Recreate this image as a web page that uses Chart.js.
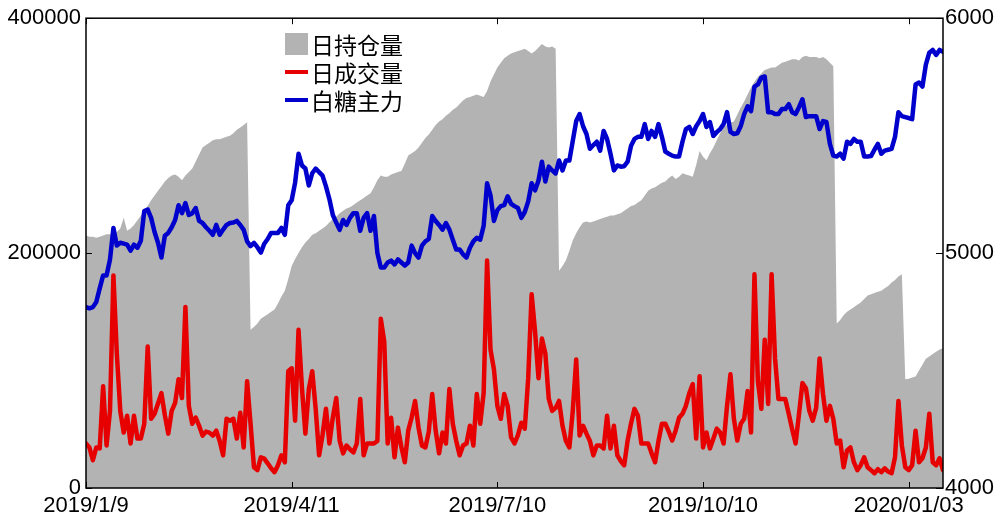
<!DOCTYPE html>
<html>
<head>
<meta charset="utf-8">
<script src="https://cdn.jsdelivr.net/npm/chart.js@4.4.1/dist/chart.umd.min.js"></script>
<style>
  body { margin: 0; background: #fff; }
  canvas { display: block; }
</style>
</head>
<body>
<canvas id="chart_sugar" width="999" height="517"></canvas>
<script>
/* 데이터 */
var tickIdx = [0, 60, 120, 180, 240];
var tickLabels = ['2019/1/9', '2019/4/11', '2019/7/10', '2019/10/10', '2020/01/03'];

// 日持仓量
var oi = [
  215000, 214000, 214000, 213000, 214000, 215000, 216000, 216000, 217000, 218000,
  221000, 230000, 219000, 221000, 224000, 228000, 232000, 236000, 240000, 245000,
  249000, 253000, 257000, 261000, 264000, 266000, 267000, 265000, 262000, 266000,
  269000, 272000, 278000, 284000, 290000, 292000, 294000, 296000, 297000, 297000,
  298000, 299000, 300000, 302000, 305000, 307000, 309000, 311500, 134700, 137000,
  140000, 144000, 146000, 148000, 150000, 152000, 157000, 163000, 168000, 178000,
  189000, 195000, 200000, 205000, 209000, 212000, 215600, 217000, 219000, 221000,
  223000, 226000, 229000, 231000, 234000, 236000, 238000, 239000, 241000, 243000,
  245000, 247000, 249000, 251000, 256000, 262000, 266000, 265000, 265000, 267000,
  268000, 269000, 270000, 276000, 283000, 285000, 287000, 290000, 294000, 298000,
  301000, 305000, 309000, 312000, 314000, 317000, 319000, 322000, 324000, 327000,
  330000, 332000, 333000, 334000, 335000, 334000, 333000, 338000, 346000, 352000,
  358000, 362000, 366000, 368000, 370000, 371000, 372000, 373000, 374000, 372000,
  370000, 372000, 375000, 378000, 376000, 375000, 376000, 374000, 185000, 189000,
  194000, 202000, 211000, 217000, 222000, 226000, 227000, 226000, 227000, 228000,
  229000, 230000, 231000, 232000, 232000, 233000, 234000, 236000, 238000, 240000,
  241000, 243000, 245000, 249000, 253000, 255000, 256000, 258000, 260000, 261000,
  264000, 266000, 263000, 265000, 268000, 267000, 266000, 265000, 275000, 287000,
  282000, 279000, 285000, 290000, 296000, 302000, 307000, 309000, 311000, 312000,
  318000, 324000, 329000, 335000, 341000, 346000, 350000, 353000, 356000, 357000,
  358000, 358000, 360000, 362000, 363000, 364000, 365000, 365000, 364000, 367000,
  368000, 367000, 367000, 367000, 366000, 367000, 365000, 362000, 359000, 140000,
  143000, 147000, 150000, 152000, 154000, 156000, 158000, 161000, 164000, 165000,
  166000, 167000, 168000, 170000, 172000, 175000, 177000, 180000, 182000, 92600,
  93000, 94000, 95000, 100000, 105000, 110000, 112000, 114000, 116000, 118000, 119000
];

// 日成交量
var vol = [
  37900, 34500, 23600, 34500, 33700, 86700, 36200, 65700, 181000, 113700,
  65700, 47200, 61500, 37900, 61500, 42100, 42100, 54700, 120400, 58900,
  63200, 72000, 80800, 62000, 46300, 65700, 72400, 92600, 76600, 154100,
  69900, 54700, 60000, 53000, 44600, 48000, 47200, 44600, 48800, 40000,
  27800, 58900, 57300, 58900, 42100, 64000, 34500, 90900, 54700, 17700,
  15200, 26100, 25000, 21000, 16800, 13500, 19400, 27800, 21900, 99400,
  101900, 57300, 134700, 85000, 46300, 84200, 99400, 67400, 27800, 45000,
  67400, 37900, 60000, 76600, 40400, 29500, 36200, 33000, 30300, 37900,
  75800, 27800, 37900, 37900, 37900, 40000, 144000, 124600, 37900, 59800,
  26100, 51400, 35000, 21900, 48800, 60000, 74100, 51400, 36200, 34500,
  48000, 80000, 48800, 29500, 47200, 37900, 84200, 54700, 40000, 27800,
  36200, 37900, 53000, 36200, 80000, 54700, 80800, 193700, 117900, 101000,
  69900, 58900, 80000, 70000, 43000, 37900, 45000, 55600, 50500, 93500,
  165000, 133000, 93500, 127200, 114500, 75800, 65700, 68200, 74100, 53000,
  40000, 34500, 65700, 109500, 44600, 53000, 46300, 40000, 27800, 36200,
  36200, 33700, 61500, 33700, 53000, 27800, 23000, 19400, 40400, 55000,
  67400, 61500, 37900, 37900, 37900, 29500, 21900, 40000, 54700, 54700,
  48000, 40400, 48800, 59800, 63200, 70000, 80800, 88400, 42100, 95200,
  34500, 47200, 33700, 42000, 50500, 47200, 37900, 70000, 96800, 58900,
  40400, 54700, 58900, 82500, 47200, 181900, 90900, 67400, 126300, 71600,
  181900, 110300, 75800, 75800, 75800, 63200, 50000, 37900, 63200, 89300,
  85000, 65700, 57300, 68200, 110300, 80000, 57300, 69900, 58900, 37900,
  40400, 17700, 32000, 34500, 22000, 15200, 19400, 26100, 17700, 15200,
  12600, 16000, 13500, 16800, 14000, 12600, 26100, 74100, 36200, 17700,
  15200, 19400, 48800, 21900, 25300, 34500, 63200, 21900, 19400, 25300, 15200
];

// 白糖主力
var price = [
  4770, 4765, 4770, 4792, 4850, 4905, 4905, 4973, 5107, 5032,
  5044, 5040, 5036, 5010, 5036, 5023, 5053, 5179, 5185, 5150,
  5090, 5044, 4981, 5074, 5086, 5110, 5141, 5204, 5170, 5213,
  5162, 5170, 5192, 5137, 5128, 5110, 5095, 5078, 5120, 5078,
  5100, 5120, 5128, 5130, 5137, 5120, 5099, 5050, 5030, 5044,
  5025, 5002, 5040, 5060, 5086, 5086, 5086, 5107, 5078, 5204,
  5225, 5300, 5423, 5373, 5360, 5288, 5340, 5360, 5345, 5330,
  5284, 5230, 5162, 5130, 5099, 5141, 5120, 5150, 5170, 5170,
  5095, 5150, 5170, 5095, 5158, 5000, 4939, 4939, 4960, 4968,
  4952, 4973, 4960, 4947, 4960, 5032, 5000, 4981, 5032, 5050,
  5060, 5158, 5137, 5120, 5100, 5128, 5100, 5057, 5015, 5015,
  4995, 4981, 5023, 5050, 5065, 5057, 5116, 5297, 5246, 5137,
  5183, 5200, 5204, 5242, 5210, 5200, 5192, 5150, 5175, 5220,
  5297, 5267, 5309, 5389, 5305, 5368, 5352, 5339, 5394, 5352,
  5394, 5394, 5478, 5562, 5592, 5540, 5507, 5444, 5460, 5474,
  5436, 5520, 5486, 5423, 5352, 5373, 5368, 5370, 5389, 5457,
  5486, 5495, 5495, 5549, 5486, 5520, 5495, 5549, 5495, 5432,
  5423, 5415, 5411, 5411, 5474, 5528, 5537, 5507, 5540, 5562,
  5592, 5537, 5558, 5499, 5515, 5528, 5549, 5600, 5516, 5507,
  5510, 5541, 5592, 5625, 5604, 5709, 5718, 5747, 5752, 5600,
  5600, 5592, 5592, 5613, 5613, 5634, 5600, 5592, 5621, 5655,
  5579, 5583, 5583, 5583, 5528, 5562, 5558, 5465, 5415, 5411,
  5423, 5402, 5474, 5465, 5486, 5474, 5474, 5411, 5411, 5413,
  5440, 5465, 5423, 5436, 5440, 5444, 5495, 5600, 5583, 5579,
  5575, 5570, 5718, 5726, 5709, 5802, 5853, 5865, 5844, 5865, 5857
];

var labels = oi.map(function (v, i) { return i; });  // x축: 거래일 순번

var GREY = 'rgb(179, 179, 179)';
var RED = 'rgb(230, 0, 0)';
var BLUE = 'rgb(0, 0, 205)';
var TICK_FONT = { family: "'Liberation Sans', Arial, sans-serif", size: 22 };

function plainNum(v) { return String(v); }  // 천단위 콤마 없이

/* 테두리 + 안쪽 눈금 */
var framePlugin = {
  id: 'frame',
  afterDatasetsDraw: function (chart) {
    var ctx = chart.ctx;
    var a = chart.chartArea;
    var sx = chart.scales.x, yl = chart.scales.y, yr = chart.scales.y1;
    ctx.save();
    ctx.strokeStyle = '#000';
    ctx.lineWidth = 1.5;
    ctx.strokeRect(a.left, a.top, a.right - a.left, a.bottom - a.top);
    ctx.lineWidth = 1;
    ctx.beginPath();
    tickIdx.forEach(function (v) {
      var px = Math.round(sx.getPixelForValue(v)) + 0.5;
      ctx.moveTo(px, a.bottom); ctx.lineTo(px, a.bottom - 6);
      ctx.moveTo(px, a.top); ctx.lineTo(px, a.top + 6);
    });
    [0, 200000, 400000].forEach(function (v) {
      var py = Math.round(yl.getPixelForValue(v)) + 0.5;
      ctx.moveTo(a.left, py); ctx.lineTo(a.left + 6, py);
    });
    [4000, 5000, 6000].forEach(function (v) {
      var py = Math.round(yr.getPixelForValue(v)) + 0.5;
      ctx.moveTo(a.right, py); ctx.lineTo(a.right - 7, py);
    });
    ctx.stroke();
    ctx.restore();
  }
};

/* 범례 (차트 안쪽) */
var legendPlugin = {
  id: 'innerLegend',
  afterDraw: function (chart) {
    var ctx = chart.ctx;
    var x0 = 285, rows = [44, 72, 100];
    ctx.save();
    ctx.font = "23px 'Noto Sans CJK SC'";
    ctx.textBaseline = 'middle';
    chart.data.datasets.forEach(function (ds, i) {
      var y = rows[i];
      if (ds.fill) {
        ctx.fillStyle = GREY;
        ctx.fillRect(x0, y - 11, 23, 22);
      } else {
        ctx.strokeStyle = ds.borderColor;
        ctx.lineWidth = 4;
        ctx.beginPath();
        ctx.moveTo(x0, y); ctx.lineTo(x0 + 23, y);
        ctx.stroke();
      }
      ctx.fillStyle = '#000';
      ctx.fillText(ds.label, x0 + 26, y + 1);
    });
    ctx.restore();
  }
};

/* 차트 */
var ctx_sugar = document.getElementById('chart_sugar');

var config_sugar = {
  type: 'line',
  data: {
    labels: labels,
    datasets: [{
      label: '日持仓量',
      data: oi,
      yAxisID: 'y',
      fill: 'origin',
      backgroundColor: GREY,
      borderColor: GREY,
      borderWidth: 0,
      pointRadius: 0,
      order: 3
    }, {
      label: '日成交量',
      data: vol,
      yAxisID: 'y',
      fill: false,
      borderColor: RED,
      borderWidth: 4.5,
      pointRadius: 0,
      order: 2
    }, {
      label: '白糖主力',
      data: price,
      yAxisID: 'y1',
      fill: false,
      borderColor: BLUE,
      borderWidth: 4.5,
      pointRadius: 0,
      order: 1
    }]
  },
  options: {
    responsive: false,
    animation: false,
    layout: { padding: { top: 13, left: 0, right: 0, bottom: 0 } },
    elements: { line: { tension: 0, borderJoinStyle: 'round', borderCapStyle: 'round' } },
    plugins: {
      legend: { display: false },
      tooltip: { enabled: false }
    },
    scales: {
      x: {
        type: 'linear',
        min: 0,
        max: 250,
        grid: { display: false, drawTicks: false },
        border: { display: false },
        afterBuildTicks: function (scale) {
          scale.ticks = tickIdx.map(function (v) { return { value: v }; });
        },
        afterFit: function (scale) { scale.height = 29; },
        ticks: {
          autoSkip: false,
          maxRotation: 0,
          padding: 5,
          color: '#000',
          font: TICK_FONT,
          callback: function (v) { return tickLabels[tickIdx.indexOf(v)]; }
        }
      },
      y: {
        position: 'left',
        min: 0,
        max: 400000,
        grid: { display: false, drawTicks: false },
        border: { display: false },
        afterFit: function (scale) { scale.width = 86; },
        ticks: { stepSize: 200000, padding: 5, color: '#000', font: TICK_FONT, callback: plainNum }
      },
      y1: {
        position: 'right',
        min: 4000,
        max: 6000,
        grid: { display: false, drawTicks: false },
        border: { display: false },
        afterFit: function (scale) { scale.width = 56; },
        ticks: { stepSize: 1000, padding: 2, color: '#000', font: TICK_FONT, callback: plainNum }
      }
    }
  },
  plugins: [framePlugin, legendPlugin]
};

var chart_sugar = new Chart(ctx_sugar, config_sugar);
</script>
</body>
</html>
